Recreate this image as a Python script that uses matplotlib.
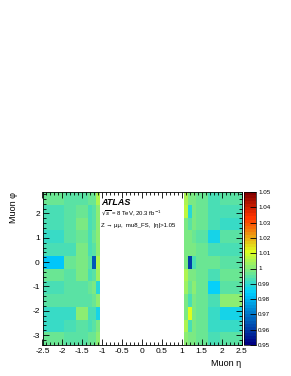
import numpy as np
import matplotlib
matplotlib.use("Agg")
import matplotlib.pyplot as plt
from matplotlib.colors import LinearSegmentedColormap
from matplotlib.ticker import MultipleLocator

plt.rcParams['font.family'] = ['Liberation Sans', 'DejaVu Sans']

# bin edges (eta: endcap bins only, barrel |eta|<1.05 is empty)
eta_edges = [-2.5, -1.95, -1.65, -1.35, -1.25, -1.15, -1.05,
             1.05, 1.15, 1.25, 1.35, 1.65, 1.95, 2.5]
n_phi = 12

# scale factors, rows from top (phi ~ 2.9) to bottom (phi ~ -3.4)
sf_neg_eta = [
    [0.996, 0.995, 0.995, 0.996, 0.997, 1.004],
    [0.992, 0.995, 0.996, 0.992, 0.995, 1.001],
    [0.992, 0.995, 0.999, 0.992, 0.995, 1.000],
    [0.991, 0.995, 0.996, 0.993, 0.996, 1.000],
    [0.992, 0.992, 0.998, 0.992, 0.995, 1.000],
    [0.982, 0.997, 0.998, 0.995, 0.964, 1.004],
    [0.996, 0.995, 0.998, 0.992, 0.994, 1.003],
    [0.992, 0.995, 0.995, 0.996, 0.999, 0.989],
    [0.995, 0.995, 0.995, 0.995, 0.996, 1.000],
    [0.990, 0.990, 1.000, 0.992, 0.992, 0.987],
    [0.990, 0.992, 0.995, 0.992, 0.995, 0.999],
    [0.997, 0.995, 0.995, 0.997, 0.997, 1.000],
]
sf_pos_eta = [
    [1.004, 0.998, 0.998, 0.997, 0.992, 0.995],
    [1.006, 0.989, 0.998, 0.997, 0.992, 0.993],
    [0.999, 0.995, 0.998, 0.997, 0.992, 0.991],
    [0.999, 0.998, 0.997, 0.995, 0.986, 0.995],
    [0.999, 0.998, 0.998, 0.997, 0.992, 0.992],
    [0.999, 0.961, 0.993, 0.997, 0.997, 0.995],
    [1.004, 0.998, 0.998, 0.997, 0.992, 0.997],
    [1.003, 0.997, 1.000, 0.997, 0.984, 0.995],
    [0.999, 0.993, 0.998, 0.996, 0.992, 1.000],
    [0.999, 1.010, 0.998, 0.997, 0.990, 0.986],
    [1.004, 0.993, 0.998, 0.997, 0.990, 0.991],
    [1.000, 0.998, 0.998, 0.997, 0.992, 0.995],
]

zmin, zmax = 0.95, 1.05
cbar_ticks = [0.95, 0.96, 0.97, 0.98, 0.99, 1.0, 1.01, 1.02, 1.03, 1.04, 1.05]
cbar_labels = ['0.95', '0.96', '0.97', '0.98', '0.99', '1', '1.01', '1.02', '1.03', '1.04', '1.05']

# ROOT style rainbow palette
stops = [0.00, 0.34, 0.61, 0.84, 1.00]
red = [0.00, 0.00, 0.87, 1.00, 0.51]
green = [0.00, 0.81, 1.00, 0.20, 0.00]
blue = [0.51, 1.00, 0.12, 0.00, 0.00]
cmap = LinearSegmentedColormap.from_list(
    'root', list(zip(stops, zip(red, green, blue))), N=50)
cmap.set_bad('white')

phi_edges = np.linspace(-np.pi - np.pi / 12, np.pi - np.pi / 12, n_phi + 1)
gap = np.full((n_phi, 1), np.nan)
z = np.hstack([np.array(sf_neg_eta), gap, np.array(sf_pos_eta)])[::-1]
z = np.ma.masked_invalid(z)

fig = plt.figure(figsize=(2.91, 3.76), dpi=100)
ax = fig.add_axes([42.5 / 291, 31 / 376, 199 / 291, 153 / 376])
cax = fig.add_axes([243.5 / 291, 31 / 376, 12.5 / 291, 153 / 376])

mesh = ax.pcolormesh(eta_edges, phi_edges, z, cmap=cmap, vmin=zmin, vmax=zmax)
ax.set_xlim(-2.5, 2.5)
ax.set_ylim(phi_edges[0], phi_edges[-1])

ax.xaxis.set_major_locator(MultipleLocator(0.5))
ax.xaxis.set_minor_locator(MultipleLocator(0.1))
ax.yaxis.set_major_locator(MultipleLocator(1))
ax.yaxis.set_minor_locator(MultipleLocator(0.2))
ax.set_xticks(np.arange(-2.5, 2.51, 0.5))
ax.set_xticklabels(['-2.5', '-2', '-1.5', '-1', '-0.5', '0', '0.5', '1', '1.5', '2', '2.5'])
ax.set_yticks([-3, -2, -1, 0, 1, 2])
ax.set_yticklabels(['-3', '-2', '-1', '0', '1', '2'])
ax.tick_params(which='both', direction='in', top=True, right=True,
               labelsize=6, width=0.6, pad=2)
ax.tick_params(which='major', length=4.5)
ax.tick_params(which='minor', length=2.2)
for s in ax.spines.values():
    s.set_linewidth(0.6)

ax.set_xlabel('Muon η', fontsize=6.5, loc='right', labelpad=3)
ax.set_ylabel('Muon φ', fontsize=6.5, loc='top', labelpad=10)

cb = fig.colorbar(mesh, cax=cax, ticks=cbar_ticks)
cb.ax.set_yticklabels(cbar_labels)
cb.ax.tick_params(direction='in', length=4, width=0.6, labelsize=4.5, pad=1.5)
cb.outline.set_linewidth(0.5)

fig.text(101 / 291, 0.455, 'ATLAS', fontsize=6.5, fontweight='bold', style='italic')
fig.text(101 / 291, 0.427, r'$\sqrt{s}$ = 8 TeV, 20.3 fb$^{-1}$', fontsize=4.3)
fig.text(101 / 291, 0.397, 'Z → μμ,  mu8_FS,  |η|>1.05', fontsize=4.3)

fig.savefig('out.png', dpi=100)
